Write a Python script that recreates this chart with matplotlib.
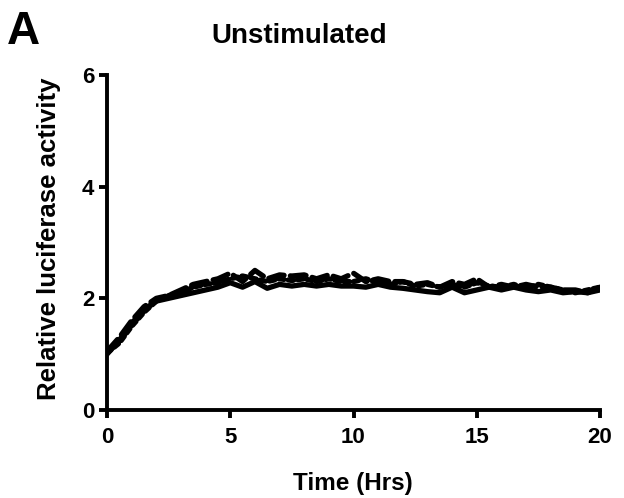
import matplotlib
matplotlib.use("Agg")
import matplotlib.pyplot as plt
import numpy as np

plt.rcParams['font.family'] = ['Liberation Sans', 'DejaVu Sans']
plt.rcParams['font.weight'] = 'bold'

time_hrs = [0, 0.5, 1, 1.5, 2, 2.5, 3, 3.5, 4, 4.5, 5, 5.5, 6, 6.5, 7, 7.5, 8, 8.5, 9, 9.5,
            10, 10.5, 11, 11.5, 12, 12.5, 13, 13.5, 14, 14.5, 15, 15.5, 16, 16.5, 17, 17.5,
            18, 18.5, 19, 19.5, 20]
solid = [1.0, 1.25, 1.55, 1.8, 1.95, 2.0, 2.05, 2.1, 2.15, 2.2, 2.28, 2.2, 2.3, 2.18, 2.25, 2.22,
         2.25, 2.22, 2.25, 2.22, 2.22, 2.2, 2.25, 2.2, 2.18, 2.15, 2.12, 2.1, 2.2, 2.1, 2.15, 2.2,
         2.15, 2.2, 2.15, 2.12, 2.15, 2.1, 2.12, 2.1, 2.15]
dashed = [1.05, 1.3, 1.6, 1.85, 2.0, 2.05, 2.15, 2.25, 2.3, 2.35, 2.45, 2.3, 2.5, 2.35, 2.42, 2.4,
          2.42, 2.35, 2.42, 2.35, 2.45, 2.3, 2.35, 2.3, 2.3, 2.25, 2.28, 2.2, 2.3, 2.25, 2.35, 2.2,
          2.25, 2.2, 2.25, 2.2, 2.2, 2.15, 2.15, 2.1, 2.2]
dotted = [1.02, 1.2, 1.5, 1.75, 1.95, 2.05, 2.1, 2.2, 2.25, 2.28, 2.35, 2.4, 2.35, 2.3, 2.35, 2.32,
          2.35, 2.3, 2.35, 2.3, 2.3, 2.35, 2.28, 2.25, 2.3, 2.22, 2.25, 2.2, 2.25, 2.2, 2.28, 2.22,
          2.2, 2.25, 2.18, 2.25, 2.2, 2.15, 2.1, 2.15, 2.2]
x_ticks = [0, 5, 10, 15, 20]
y_ticks = [0, 2, 4, 6]

W, H = 624, 498
fig = plt.figure(figsize=(6.24, 4.98), dpi=100)
ax = fig.add_axes([107 / W, 1 - 410 / H, 493 / W, 335 / H])
ax.plot(time_hrs, solid, color='black', lw=3.8, ls='-', solid_capstyle='round', zorder=3)
ax.plot(time_hrs, dashed, color='black', lw=3.8, ls=(0, (3, 1.2)), dash_capstyle='round')
ax.plot(time_hrs, dotted, color='black', lw=3.8, ls=(0, (1, 0.8)), dash_capstyle='round')

ax.set_xlim(0, 20)
ax.set_ylim(0, 6)
ax.set_xticks(x_ticks)
ax.set_yticks(y_ticks)
for s in ['top', 'right']:
    ax.spines[s].set_visible(False)
for s in ['left', 'bottom']:
    ax.spines[s].set_linewidth(2.8)
ax.tick_params(width=2.8, length=6, labelsize=16, pad=3)
ax.tick_params(axis='x', pad=6)
for lbl in ax.get_xticklabels() + ax.get_yticklabels():
    lbl.set_fontweight('bold')

fig.text(353 / W, 1 - 483 / H, 'Time (Hrs)', fontsize=17.5, fontweight='bold',
         ha='center', va='center')
fig.text(49 / W, 1 - 239 / H, 'Relative luciferase activity', fontsize=18.5,
         fontweight='bold', ha='center', va='center', rotation=90)
fig.text(299 / W, 1 - 36 / H, 'Unstimulated', fontsize=20, fontweight='bold',
         ha='center', va='center')
fig.text(23 / W, 1 - 32 / H, 'A', fontsize=33, fontweight='bold', ha='center', va='center')
fig.savefig('out.png', dpi=100)
